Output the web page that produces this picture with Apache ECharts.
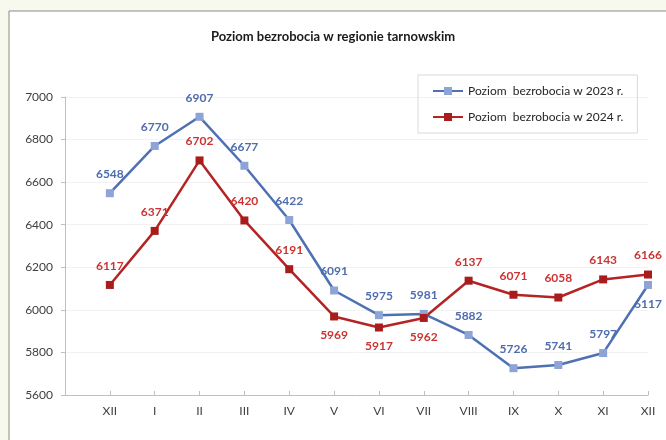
<!DOCTYPE html>
<html>
<head>
<meta charset="utf-8">
<script src="https://cdn.jsdelivr.net/npm/echarts@6/dist/echarts.min.js"></script>
<style>
  html, body { margin: 0; padding: 0; background: #f7f8ee; }
  #chart { width: 666px; height: 440px; }
</style>
</head>
<body>
<div id="chart"></div>
<script>
// months on the x axis
var months = ['XII', 'I', 'II', 'III', 'IV', 'V', 'VI', 'VII', 'VIII', 'IX', 'X', 'XI', 'XII']
var level2023 = [6548, 6770, 6907, 6677, 6422, 6091, 5975, 5981, 5882, 5726, 5741, 5797, 6117]
var level2024 = [6117, 6371, 6702, 6420, 6191, 5969, 5917, 5962, 6137, 6071, 6058, 6143, 6166]
var yTicks = [5600, 5800, 6000, 6200, 6400, 6600, 6800, 7000]

var name2023 = 'Poziom  bezrobocia w 2023 r.'
var name2024 = 'Poziom  bezrobocia w 2024 r.'
var font = 'Lato, "Open Sans", sans-serif'

// labels drawn under the point instead of above
var below2023 = [12]
var below2024 = [5, 6, 7]

function points(values, below) {
  return values.map(function(v, i) {
    var item = { value: [i, v] }
    if (below.indexOf(i) >= 0) {
      item.label = { position: 'bottom' }
    }
    return item
  })
}

var chart = echarts.init(document.getElementById('chart'))
chart.setOption({
  animation: false,
  backgroundColor: '#f7f8ee',
  graphic: [{
    type: 'rect',
    shape: { x: 9, y: 11, width: 700, height: 460 },
    style: { fill: '#ffffff', stroke: '#8c8c84', lineWidth: 1 },
    z: -10
  }],
  title: {
    text: 'Poziom bezrobocia w regionie tarnowskim',
    left: 'center',
    top: 25,
    textStyle: { fontFamily: font, fontSize: 13, fontWeight: 'bold', color: '#1a1a1a' }
  },
  legend: {
    orient: 'vertical',
    left: 418,
    top: 75,
    itemGap: 14,
    itemWidth: 30,
    itemHeight: 10,
    padding: [10, 14, 10, 14],
    borderColor: '#d9d9d9',
    borderWidth: 1,
    textStyle: { fontFamily: font, fontSize: 12, color: '#262626' },
    data: [name2023, name2024]
  },
  grid: { left: 65, right: 18, top: 97, bottom: 45 },
  xAxis: {
    type: 'value',
    min: -1,
    max: months.length - 1,
    interval: 1,
    splitLine: { show: false },
    axisLine: { onZero: false, lineStyle: { color: '#bfbfbf' } },
    axisTick: { show: true, length: 4, inside: true, lineStyle: { color: '#bfbfbf' } },
    axisLabel: {
      margin: 10,
      fontFamily: font,
      fontSize: 12,
      color: '#404040',
      formatter: function(v) { return v >= 0 ? months[v] : '' }
    }
  },
  yAxis: {
    type: 'value',
    min: yTicks[0],
    max: yTicks[yTicks.length - 1],
    interval: 200,
    axisLine: { show: true, onZero: false, lineStyle: { color: '#bfbfbf' } },
    axisTick: { show: true, length: 4, lineStyle: { color: '#bfbfbf' } },
    splitLine: { show: true, lineStyle: { color: '#f2f2f2' } },
    axisLabel: {
      margin: 12,
      fontFamily: font,
      fontSize: 12,
      color: '#404040',
      formatter: function(v) { return String(v) }
    }
  },
  series: [{
    name: name2023,
    type: 'line',
    symbol: 'rect',
    symbolSize: 8,
    color: '#8ea4d6',
    lineStyle: { color: '#4f70b3', width: 2.5 },
    itemStyle: { color: '#8ea4d6' },
    label: {
      show: true,
      position: 'top',
      distance: 9,
      fontFamily: font,
      fontSize: 12,
      fontWeight: 'bold',
      color: '#4e6cae'
    },
    data: points(level2023, below2023)
  }, {
    name: name2024,
    type: 'line',
    symbol: 'rect',
    symbolSize: 8,
    color: '#a81c1c',
    lineStyle: { color: '#b52424', width: 2.5 },
    itemStyle: { color: '#a81c1c' },
    label: {
      show: true,
      position: 'top',
      distance: 9,
      fontFamily: font,
      fontSize: 12,
      fontWeight: 'bold',
      color: '#cc3333'
    },
    data: points(level2024, below2024)
  }]
})
</script>
</body>
</html>
